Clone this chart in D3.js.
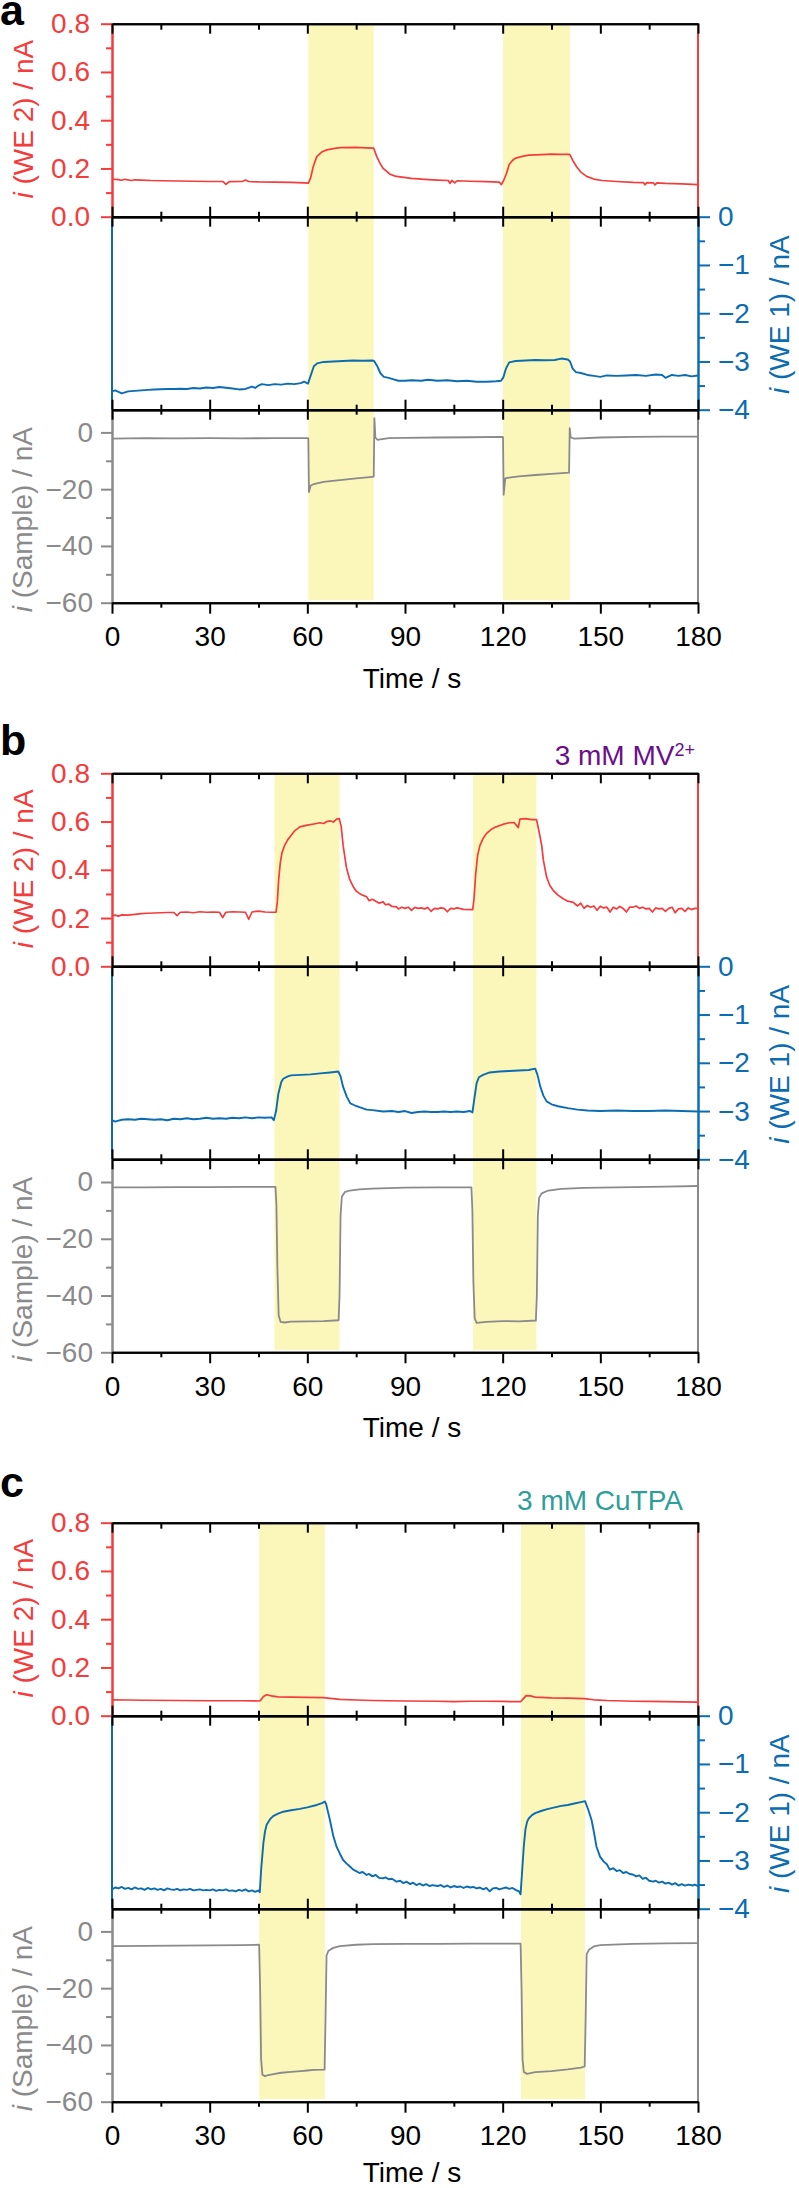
<!DOCTYPE html>
<html>
<head>
<meta charset="utf-8">
<script src="https://cdn.jsdelivr.net/npm/d3@7"></script>
<style>
  html, body { margin: 0; padding: 0; background: #fff; }
  svg { display: block; }
  text { font-family: "Liberation Sans", Arial, Helvetica, sans-serif; }
</style>
</head>
<body>
<svg id="chart" width="799" height="2188"></svg>
<script>
// ---------------- DATA ----------------
const timeTicks = [0, 30, 60, 90, 120, 150, 180];
const timeMinorTicks = [15, 45, 75, 105, 135, 165];
const we2Ticks = [0, 0.2, 0.4, 0.6, 0.8];
const we2MinorTicks = [0.1, 0.3, 0.5, 0.7];
const we1Ticks = [0, -1, -2, -3, -4];
const we1MinorTicks = [-0.5, -1.5, -2.5, -3.5];
const sampleTicks = [0, -20, -40, -60];
const sampleMinorTicks = [-10, -30, -50];

const panelLetters = ["a", "b", "c"];
const panelNotes = ["", "3 mM MV", "3 mM CuTPA"];
const panelNoteSup = ["", "2+", ""];

// illumination windows [start, end] in s
const lightA = [[60.3, 80.4], [120.1, 140.7]];
const lightB = [[49.9, 69.9], [110.9, 130.4]];
const lightC = [[45.2, 65.4], [125.6, 145.3]];

// ---- panel a ----
const we2A = [[0,.156],[2,.154],[3,.151],[4,.155],[6,.150],[7,.153],[9,.152],[12,.150],[15,.149],[20,.148],[25,.147],[30,.146],[34,.146],[35,.134],[36,.145],[40,.146],[41,.152],[42,.146],[45,.144],[50,.143],[55,.142],[57,.141],[59,.140],[60.3,.139],[61,.160],[61.8,.207],[62.9,.249],[64.4,.268],[66,.277],[68,.282],[70,.286],[75,.287],[78,.285],[80.4,.284],[81.3,.250],[82.3,.222],[83.3,.200],[85.4,.176],[87,.168],[88.5,.165],[92,.159],[96,.155],[100,.152],[103.3,.150],[103.8,.138],[104.4,.150],[105.3,.140],[106,.149],[110,.147],[115,.145],[119,.143],[119.6,.133],[120.3,.150],[121.2,.180],[122,.216],[123,.233],[123.8,.242],[126,.250],[128,.255],[132,.257],[135,.259],[138,.258],[140.6,.258],[141.6,.232],[142.7,.207],[144,.185],[145.8,.167],[148,.156],[150.5,.150],[155,.146],[160,.142],[163.3,.141],[163.7,.132],[164.3,.141],[166.3,.140],[166.8,.132],[167.4,.140],[170,.138],[175,.136],[180,.133]];
const we1A = [[0,-3.62],[1,-3.60],[2,-3.63],[3,-3.66],[4,-3.64],[5,-3.62],[7,-3.61],[9,-3.60],[11,-3.59],[13,-3.58],[15,-3.575],[17,-3.57],[19,-3.57],[21,-3.565],[23,-3.57],[25,-3.55],[27,-3.56],[29,-3.54],[31,-3.55],[33,-3.53],[35,-3.545],[37,-3.56],[39,-3.58],[41,-3.57],[43,-3.52],[44,-3.55],[45,-3.50],[46,-3.47],[48,-3.49],[50,-3.47],[52,-3.48],[54,-3.46],[56,-3.47],[58,-3.45],[59,-3.42],[60.2,-3.46],[61,-3.30],[62,-3.10],[63,-3.04],[65,-3.01],[68,-3.00],[71,-2.99],[74,-2.98],[77,-2.985],[80,-2.98],[80.5,-2.99],[81.5,-3.10],[82.5,-3.25],[83.5,-3.32],[85,-3.34],[86.5,-3.37],[88,-3.40],[90,-3.40],[92,-3.39],[95,-3.40],[97,-3.38],[100,-3.40],[103,-3.39],[106,-3.41],[109,-3.40],[112,-3.42],[115,-3.42],[118,-3.41],[119.5,-3.40],[120.2,-3.33],[121,-3.15],[122,-3.02],[124,-2.99],[127,-2.98],[130,-2.97],[133,-2.975],[136,-2.97],[138,-2.94],[140,-2.96],[140.7,-3.00],[141.5,-3.15],[142.5,-3.22],[144,-3.24],[146,-3.28],[148,-3.30],[150,-3.32],[152,-3.29],[155,-3.30],[158,-3.29],[161,-3.28],[164,-3.30],[167,-3.27],[169,-3.28],[170,-3.34],[171,-3.31],[172,-3.28],[174,-3.30],[176,-3.28],[178,-3.31],[180,-3.29]];
const sampleA = [[0,-2.2],[10,-2.0],[20,-2.1],[30,-2.0],[40,-2.1],[50,-2.0],[60,-2.0],[60.3,-2.1],[60.5,-21],[61,-18.8],[62,-18.2],[65,-17.4],[70,-16.8],[75,-16.2],[80,-15.7],[80.4,-15.5],[80.6,5],[80.9,-1.8],[81.5,-2.6],[85,-2.0],[90,-1.9],[100,-1.8],[110,-1.7],[119.8,-1.6],[120.1,-1.7],[120.3,-22],[120.8,-16.2],[122,-15.9],[125,-15.5],[130,-15.0],[135,-14.6],[140.4,-14.2],[140.6,1.5],[140.9,-1.8],[142,-2.2],[150,-1.8],[160,-1.6],[170,-1.5],[180,-1.5]];

// ---- panel b ----
const we2B = [[0,.210],[1,.212],[2,.208],[3,.213],[5,.212],[7,.215],[9,.218],[11,.220],[13,.221],[15,.222],[17,.223],[19,.223],[20,.210],[21,.224],[23,.225],[25,.222],[27,.226],[29,.224],[31,.225],[33,.224],[34,.202],[35,.224],[37,.226],[39,.225],[41,.224],[42,.195],[43,.225],[45,.229],[47,.225],[49,.224],[50.4,.224],[50.8,.27],[51.2,.36],[51.7,.43],[52.2,.47],[53,.50],[54,.525],[54.7,.537],[56,.56],[57.7,.578],[60,.585],[62,.590],[63.9,.595],[65,.592],[66,.600],[67,.603],[68,.598],[69,.610],[69.8,.612],[70.4,.58],[71,.50],[72,.41],[73,.36],[74.1,.33],[75,.312],[76,.302],[77,.295],[78.2,.288],[79,.272],[80,.278],[81,.270],[82,.262],[83.3,.267],[84,.255],[85,.258],[86,.248],[87.4,.246],[88,.238],[89,.245],[90,.240],[91,.245],[92,.232],[93,.244],[94,.240],[95,.242],[96,.238],[97,.244],[98,.228],[99,.240],[100,.238],[101,.242],[102,.240],[103,.226],[104,.240],[105,.238],[106,.242],[108,.236],[110.8,.235],[111.2,.28],[111.7,.38],[112.3,.46],[113,.50],[114,.53],[115,.550],[116.5,.568],[118,.578],[120,.588],[122,.595],[123.5,.596],[124.8,.575],[125.3,.610],[127,.612],[129,.608],[130.4,.608],[131,.57],[132,.50],[132.5,.44],[133.5,.37],[134.5,.335],[135.5,.315],[137,.295],[138.6,.280],[140,.270],[141.7,.265],[143,.250],[144,.262],[145,.240],[146,.252],[147,.245],[148,.250],[149,.232],[150,.249],[151,.242],[152,.245],[153,.225],[154,.245],[155,.238],[156,.248],[157,.240],[158,.225],[159,.245],[160,.245],[161,.250],[162,.240],[163,.245],[164,.238],[165,.240],[166,.225],[167,.242],[168,.238],[169,.240],[170,.228],[171,.240],[172,.245],[173,.222],[174,.238],[175,.240],[176,.228],[177,.242],[178,.235],[179,.240],[180,.240]];
const we1B = [[0,-3.19],[1,-3.22],[2,-3.20],[3,-3.18],[5,-3.17],[7,-3.18],[9,-3.16],[11,-3.17],[13,-3.18],[15,-3.17],[17,-3.19],[19,-3.16],[21,-3.17],[23,-3.15],[25,-3.17],[27,-3.16],[29,-3.14],[31,-3.16],[33,-3.15],[35,-3.16],[37,-3.14],[39,-3.15],[41,-3.13],[43,-3.15],[45,-3.13],[47,-3.14],[49,-3.13],[49.7,-3.19],[50.4,-3.00],[51.1,-2.64],[52,-2.40],[52.6,-2.33],[54,-2.28],[55,-2.26],[58,-2.25],[61,-2.24],[64,-2.22],[67,-2.20],[69.5,-2.18],[70.2,-2.28],[71,-2.50],[72.1,-2.70],[73.2,-2.84],[74.5,-2.88],[76,-2.92],[78.2,-2.97],[80,-2.98],[83.3,-3.01],[86,-3.00],[88,-3.02],[90,-3.00],[92,-3.04],[94,-3.02],[96,-3.01],[98,-3.02],[100,-3.02],[102,-3.01],[104,-3.02],[106,-3.01],[108,-3.02],[110,-3.00],[110.7,-3.03],[111.3,-2.75],[112,-2.42],[112.7,-2.30],[114,-2.25],[116,-2.20],[119,-2.18],[122,-2.17],[125,-2.16],[128,-2.15],[130,-2.12],[130.7,-2.25],[131.5,-2.48],[132.5,-2.68],[133.5,-2.80],[135,-2.86],[137,-2.90],[140,-2.94],[143,-2.97],[146,-2.99],[150,-3.00],[155,-2.99],[160,-3.00],[165,-3.00],[170,-2.99],[175,-3.00],[180,-3.01]];
const sampleB = [[0,-1.9],[10,-1.9],[20,-1.8],[30,-1.8],[40,-1.7],[50.2,-1.7],[50.5,-8],[50.8,-30],[51.2,-47],[51.8,-49.3],[53,-49.5],[55,-49.2],[60,-49.1],[65,-49.0],[69.6,-48.7],[69.9,-40],[70.2,-12],[70.6,-5.2],[71.5,-3.6],[73,-3.0],[76,-2.6],[80,-2.3],[90,-2.0],[100,-1.9],[110.4,-1.9],[110.7,-10],[111,-35],[111.4,-48],[112,-49.6],[115,-49.3],[120,-49.0],[125,-49.1],[130.2,-48.8],[130.5,-40],[130.8,-12],[131.2,-5.5],[132,-4.0],[134,-3.0],[138,-2.4],[145,-2.1],[160,-1.8],[170,-1.6],[180,-1.4]];

// ---- panel c ----
const we2C = [[0,.066],[5,.065],[10,.064],[20,.063],[30,.062],[40,.062],[45.2,.061],[45.6,.063],[46.5,.080],[47.5,.087],[49,.082],[51,.078],[55,.077],[60,.076],[65,.075],[67,.072],[70,.068],[75,.065],[80,.063],[90,.061],[100,.060],[105,.058],[110,.060],[115,.060],[120,.059],[125.5,.058],[126.3,.070],[127.2,.083],[128.5,.082],[130,.077],[135,.074],[140,.073],[145,.071],[148,.066],[152,.063],[160,.060],[165,.059],[170,.058],[175,.057],[180,.056]];
const we1C = [[0,-3.60],[1,-3.56],[2,-3.58],[3,-3.55],[4,-3.59],[5,-3.57],[6,-3.60],[7,-3.56],[8,-3.59],[9,-3.58],[10,-3.61],[11,-3.57],[12,-3.60],[13,-3.58],[14,-3.61],[15,-3.59],[16,-3.62],[17,-3.58],[18,-3.60],[19,-3.61],[20,-3.59],[21,-3.62],[22,-3.60],[23,-3.61],[24,-3.59],[25,-3.62],[26,-3.61],[27,-3.60],[28,-3.62],[29,-3.61],[30,-3.62],[31,-3.60],[32,-3.63],[33,-3.61],[34,-3.62],[35,-3.60],[36,-3.63],[37,-3.62],[38,-3.64],[39,-3.61],[40,-3.63],[41,-3.60],[42,-3.64],[43,-3.62],[44,-3.65],[45,-3.62],[45.4,-3.66],[45.8,-3.20],[46.5,-2.64],[47,-2.40],[47.5,-2.26],[48.5,-2.15],[49.5,-2.08],[51,-2.03],[52.6,-1.99],[55,-1.96],[57.7,-1.93],[60,-1.90],[62.9,-1.85],[64.5,-1.81],[65.4,-1.78],[65.8,-1.84],[66.8,-2.12],[68,-2.50],[69,-2.72],[70,-2.86],[71,-2.99],[72,-3.06],[73,-3.12],[74.1,-3.19],[75,-3.22],[76,-3.26],[77,-3.24],[78.2,-3.30],[79,-3.28],[80,-3.33],[81,-3.30],[82,-3.36],[83.3,-3.37],[84,-3.35],[85,-3.39],[86,-3.38],[87.4,-3.44],[88.5,-3.42],[89.5,-3.47],[90.5,-3.44],[91.6,-3.49],[92.5,-3.46],[93.5,-3.51],[94.5,-3.48],[95.5,-3.52],[96.5,-3.49],[97.5,-3.53],[98.5,-3.51],[100,-3.53],[101,-3.51],[102,-3.55],[103,-3.52],[104,-3.56],[105,-3.53],[106,-3.55],[107,-3.54],[108,-3.57],[109,-3.54],[110,-3.56],[111,-3.55],[112,-3.58],[113,-3.56],[114,-3.60],[115,-3.57],[116,-3.64],[117,-3.58],[118,-3.57],[119,-3.60],[120,-3.58],[121,-3.56],[122,-3.59],[123,-3.57],[124,-3.61],[125,-3.64],[125.5,-3.70],[126,-3.20],[126.5,-2.70],[127,-2.35],[127.5,-2.20],[128,-2.13],[129,-2.06],[130,-2.02],[132,-1.97],[134,-1.93],[136,-1.90],[138,-1.87],[140,-1.85],[142,-1.82],[144,-1.79],[145.3,-1.77],[146.3,-1.95],[147.3,-2.16],[148,-2.40],[148.8,-2.71],[149.9,-2.92],[151,-3.02],[152,-3.08],[152.9,-3.19],[154,-3.16],[155,-3.22],[156,-3.20],[157,-3.26],[158,-3.24],[159,-3.28],[160,-3.29],[161,-3.33],[162,-3.31],[163,-3.38],[164,-3.36],[165,-3.42],[166.3,-3.44],[167,-3.42],[168,-3.46],[169,-3.44],[170,-3.48],[171,-3.46],[172,-3.50],[173,-3.47],[174,-3.52],[175,-3.49],[176,-3.52],[177,-3.50],[178.5,-3.52],[179,-3.50],[180,-3.53]];
const sampleC = [[0,-5.2],[10,-5.1],[20,-5.0],[30,-4.9],[40,-4.8],[45.2,-4.7],[45.5,-20],[45.8,-45],[46.2,-50.5],[47,-51],[48,-50.6],[50,-50.2],[52,-49.8],[55,-49.5],[58,-49.2],[60,-49.0],[62,-48.8],[65.3,-48.7],[65.6,-30],[65.9,-8.5],[66.5,-6.8],[68,-5.8],[70,-5.2],[75,-4.7],[80,-4.5],[90,-4.4],[100,-4.4],[110,-4.3],[120,-4.3],[125.5,-4.3],[125.8,-20],[126.1,-45],[126.5,-49.5],[127.5,-50.2],[130,-49.6],[135,-49.2],[140,-48.6],[144,-48.0],[145.2,-47.6],[145.5,-30],[145.8,-8],[146.5,-6.5],[148,-5.3],[150,-4.8],[160,-4.4],[170,-4.2],[180,-4.1]];

// ---------------- LAYOUT / STYLE ----------------
const COL = {
  red: "#f43c3c",
  blue: "#0b6cb2",
  gray: "#8a8a8a",
  yellow: "#fbf7bb",
  purple: "#6b0f8a",
  teal: "#2d9e9a",
  black: "#000"
};
const FS = 28;
const panelTops = [23.7, 773.3, 1522.7];
const subH = 193;
const xL = 112, xR = 698;

const series = [
  { we2: we2A, we1: we1A, sample: sampleA, light: lightA },
  { we2: we2B, we1: we1B, sample: sampleB, light: lightB },
  { we2: we2C, we1: we1C, sample: sampleC, light: lightC }
];
const letterBaselines = [25, 755, 1496.7];
const titleOffsets = [85, 85, 80];
const noteAnchors = [null, { x: 695, y: 765, color: COL.purple }, { x: 683, y: 1510, color: COL.teal }];

const svg = d3.select("#chart");
const x = d3.scaleLinear().domain([0, 180]).range([xL, xR]);

function styleAxis(g, color, width) {
  g.selectAll("path.domain").attr("stroke", color).attr("stroke-width", width);
  g.selectAll(".tick line").attr("stroke", color).attr("stroke-width", width);
  g.selectAll(".tick text").attr("fill", color)
    .style("font-size", FS + "px")
    .style("font-family", '"Liberation Sans", Arial, Helvetica, sans-serif');
}

series.forEach((s, i) => {
  const top = panelTops[i];
  const yRed = d3.scaleLinear().domain([0, 0.8]).range([top + subH, top]);
  const yBlue = d3.scaleLinear().domain([-4, 0]).range([top + 2 * subH, top + subH]);
  const yGray = d3.scaleLinear().domain([-60, 8]).range([top + 3 * subH, top + 2 * subH]);
  const bottom = top + 3 * subH;

  const g = svg.append("g");

  // illumination bands
  g.selectAll("rect.light").data(s.light).enter().append("rect")
    .attr("x", d => x(d[0]))
    .attr("width", d => x(d[1]) - x(d[0]))
    .attr("y", top + 1.5)
    .attr("height", bottom - top - 4)
    .attr("fill", COL.yellow);

  // traces
  const mk = ys => d3.line().x(d => x(d[0])).y(d => ys(d[1]));
  g.append("path").datum(s.we2).attr("d", mk(yRed))
    .attr("fill", "none").attr("stroke", COL.red).attr("stroke-width", 1.7).attr("stroke-linejoin", "round");
  g.append("path").datum(s.we1).attr("d", mk(yBlue))
    .attr("fill", "none").attr("stroke", COL.blue).attr("stroke-width", 1.9).attr("stroke-linejoin", "round");
  g.append("path").datum(s.sample).attr("d", mk(yGray))
    .attr("fill", "none").attr("stroke", COL.gray).attr("stroke-width", 1.8).attr("stroke-linejoin", "round");

  // ---- y axes ----
  const aRed = g.append("g").attr("transform", `translate(${xL},0)`)
    .call(d3.axisLeft(yRed).tickValues(we2Ticks).tickFormat(d3.format(".1f")).tickSize(11).tickPadding(11).tickSizeOuter(0));
  styleAxis(aRed, COL.red, 2);
  const aRedMin = g.append("g").attr("transform", `translate(${xL},0)`)
    .call(d3.axisLeft(yRed).tickValues(we2MinorTicks).tickFormat("").tickSize(6).tickSizeOuter(0));
  styleAxis(aRedMin, COL.red, 2);
  g.append("line").attr("x1", xR).attr("x2", xR).attr("y1", yRed(0.8)).attr("y2", yRed(0))
    .attr("stroke", COL.red).attr("stroke-width", 2);

  g.append("line").attr("x1", xL).attr("x2", xL).attr("y1", yBlue(0)).attr("y2", yBlue(-4))
    .attr("stroke", COL.blue).attr("stroke-width", 2);
  const aBlue = g.append("g").attr("transform", `translate(${xR},0)`)
    .call(d3.axisRight(yBlue).tickValues(we1Ticks).tickFormat(d3.format("d")).tickSize(12).tickPadding(8).tickSizeOuter(0));
  styleAxis(aBlue, COL.blue, 2);
  const aBlueMin = g.append("g").attr("transform", `translate(${xR},0)`)
    .call(d3.axisRight(yBlue).tickValues(we1MinorTicks).tickFormat("").tickSize(7).tickSizeOuter(0));
  styleAxis(aBlueMin, COL.blue, 2);

  const aGray = g.append("g").attr("transform", `translate(${xL},0)`)
    .call(d3.axisLeft(yGray).tickValues(sampleTicks).tickFormat(d3.format("d")).tickSize(11).tickPadding(8).tickSizeOuter(0));
  styleAxis(aGray, COL.gray, 2);
  const aGrayMin = g.append("g").attr("transform", `translate(${xL},0)`)
    .call(d3.axisLeft(yGray).tickValues(sampleMinorTicks).tickFormat("").tickSize(6).tickSizeOuter(0));
  styleAxis(aGrayMin, COL.gray, 2);
  g.append("line").attr("x1", xR).attr("x2", xR).attr("y1", yGray(8)).attr("y2", yGray(-60))
    .attr("stroke", COL.gray).attr("stroke-width", 2);

  // ---- time axes ----
  const tTop = g.append("g").attr("transform", `translate(0,${top})`)
    .call(d3.axisBottom(x).tickValues(timeTicks).tickFormat("").tickSize(10).tickSizeOuter(0));
  styleAxis(tTop, COL.black, 2);
  const tTopMin = g.append("g").attr("transform", `translate(0,${top})`)
    .call(d3.axisBottom(x).tickValues(timeMinorTicks).tickFormat("").tickSize(6).tickSizeOuter(0));
  styleAxis(tTopMin, COL.black, 2);
  [top + subH, top + 2 * subH].forEach(yy => {
    [d3.axisBottom, d3.axisTop].forEach(fn => {
      const a1 = g.append("g").attr("transform", `translate(0,${yy})`)
        .call(fn(x).tickValues(timeTicks).tickFormat("").tickSize(10).tickSizeOuter(0));
      styleAxis(a1, COL.black, 2);
      const a2 = g.append("g").attr("transform", `translate(0,${yy})`)
        .call(fn(x).tickValues(timeMinorTicks).tickFormat("").tickSize(5).tickSizeOuter(0));
      styleAxis(a2, COL.black, 2);
    });
  });
  const tBot = g.append("g").attr("transform", `translate(0,${bottom})`)
    .call(d3.axisBottom(x).tickValues(timeTicks).tickFormat(d3.format("d")).tickSize(11).tickPadding(12.5).tickSizeOuter(0));
  styleAxis(tBot, COL.black, 2);
  const tBotMin = g.append("g").attr("transform", `translate(0,${bottom})`)
    .call(d3.axisBottom(x).tickValues(timeMinorTicks).tickFormat("").tickSize(5).tickSizeOuter(0));
  styleAxis(tBotMin, COL.black, 2);

  g.append("text").attr("x", 412).attr("y", bottom + titleOffsets[i]).attr("text-anchor", "middle")
    .attr("fill", COL.black).style("font-size", FS + "px").text("Time / s");

  const yTitle = (cx, cy, color, label) => {
    const t = g.append("text").attr("transform", `translate(${cx},${cy}) rotate(-90)`)
      .attr("text-anchor", "middle").attr("fill", color).style("font-size", FS + "px");
    t.append("tspan").style("font-style", "italic").text("i");
    t.append("tspan").text(" (" + label + ") / nA");
  };
  yTitle(33, top + 95.5, COL.red, "WE 2");
  yTitle(789, top + subH + 98, COL.blue, "WE 1");
  yTitle(32, top + 2 * subH + 110, COL.gray, "Sample");

  g.append("text").attr("x", 0).attr("y", letterBaselines[i]).attr("fill", COL.black)
    .style("font-size", "43px").style("font-weight", "bold").text(panelLetters[i]);

  if (panelNotes[i]) {
    const na = noteAnchors[i];
    const t = g.append("text").attr("x", na.x).attr("y", na.y).attr("text-anchor", "end")
      .attr("fill", na.color).style("font-size", FS + "px");
    t.append("tspan").text(panelNotes[i]);
    if (panelNoteSup[i]) {
      t.append("tspan").attr("dy", -9).style("font-size", "18px").text(panelNoteSup[i]);
    }
  }
});
</script>
</body>
</html>
